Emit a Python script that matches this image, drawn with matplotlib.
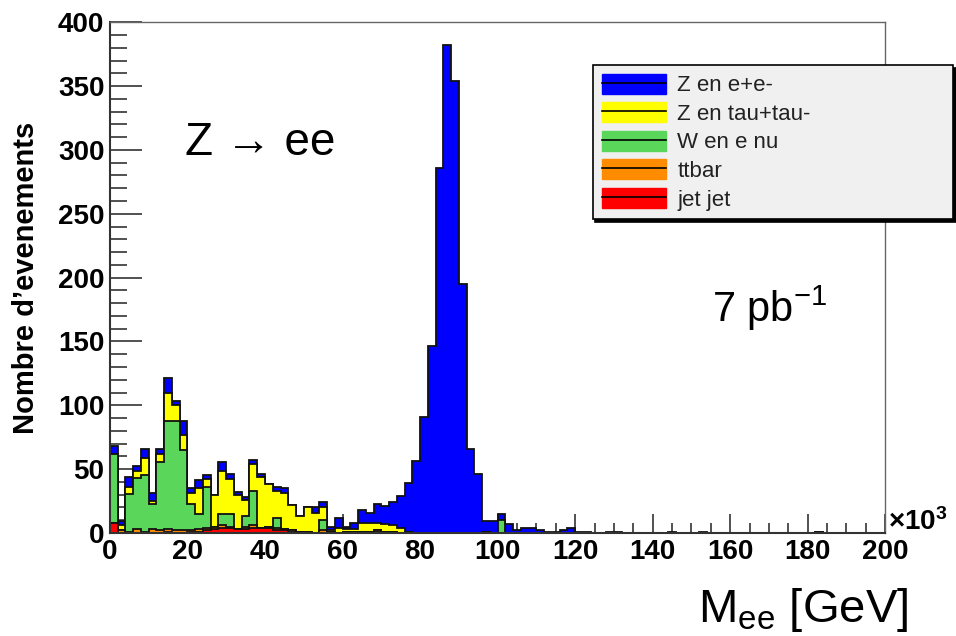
import numpy as np
import matplotlib.pyplot as plt
from matplotlib.patches import Patch
from matplotlib.lines import Line2D
from matplotlib.legend_handler import HandlerTuple
from matplotlib.ticker import MultipleLocator

plt.rcParams['font.family'] = ['Liberation Sans', 'DejaVu Sans']
plt.rcParams['mathtext.fontset'] = 'custom'
plt.rcParams['mathtext.rm'] = 'Liberation Sans'
plt.rcParams['mathtext.it'] = 'Liberation Sans:italic'
plt.rcParams['mathtext.bf'] = 'Liberation Sans:bold'

# bin edges in units of 10^3 (0 .. 200, width 2)
edges = np.arange(0, 202, 2)

# per-component counts, the leading bins; the rest are empty
jetjet_head = [8, 0, 0, 0, 0, 0, 0, 1, 0, 0, 1, 1, 2, 3, 4, 4, 3, 3, 4, 4,
               4, 2, 2, 1, 1, 0, 0, 0, 1, 0, 1, 0, 1, 0, 1, 1, 0, 0, 0, 0,
               0, 0, 0, 0, 0, 0, 0, 0, 1, 0]
ttbar_head = [0, 2, 1, 3, 1, 3, 2, 2, 2, 2, 1, 2, 2, 2, 2, 1, 0, 2, 2, 0,
              1, 2, 1, 1, 0, 1, 0, 2, 0, 0, 0, 1, 0, 1, 1, 0, 1, 0, 1, 0]
wenu_head = [54, 0, 29.5, 40, 44.5, 19.5, 53.5, 85, 85.5, 63, 21, 12, 32, 0,
             8.5, 9.5, 0, 8, 27, 0, 0, 7.5, 0, 0, 0, 0, 0, 8.5, 0, 0,
             0, 0, 0, 0, 0, 0, 0, 0, 0, 0, 0, 0, 0, 0, 0, 0, 0, 0, 0, 0, 10]
ztautau_head = [0, 4.5, 5.5, 5.5, 13.5, 2.5, 6.5, 22, 12.5, 12, 8.5, 20, 6, 25,
                34, 28, 27, 13, 21, 40, 33, 21.5, 28, 20, 12, 19, 15.5, 9.5, 1, 3.5,
                2, 2, 7, 7, 6, 6, 5, 4]
zee_head = [6, 2.5, 8, 4, 7, 6, 4, 11, 3, 10.5, 4, 6.5, 3.5, 0, 7, 3.5, 2, 2, 3.5, 2.5,
            0.5, 3, 4, 0, 0, 0, 4.5, 4.5, 3, 8.5, 2, 5, 10, 8, 15, 14.5, 18.5, 25, 38.5, 56.5,
            90.5, 146.5, 286, 382, 354, 195, 65.5, 46, 8, 9, 5, 7, 2, 4, 4, 2.5, 1, 0.5, 2, 4,
            0.5, 0.5, 0, 0, 1, 1, 0, 0, 0, 0, 0, 0, 1, 0, 0, 0, 1]

ttbar_tail = {91: 1}

names = ['Z en e+e-', 'Z en tau+tau-', 'W en e nu', 'ttbar', 'jet jet']
colors = ['#0000ff', '#ffff00', '#5ad75a', '#ff8c00', '#ff0000']


def pad(values, n=100):
    out = np.zeros(n)
    out[:len(values)] = values
    return out


jetjet = pad(jetjet_head)
ttbar = pad(ttbar_head)
for k, v in ttbar_tail.items():
    ttbar[k] = v
wenu = pad(wenu_head)
ztautau = pad(ztautau_head)
zee = pad(zee_head)

# stacking order from bottom: jet jet, ttbar, W, Z tautau, Z ee
layers = [jetjet, ttbar, wenu, ztautau, zee]
cum = np.cumsum(layers, axis=0)

fig = plt.figure(figsize=(9.56, 6.36), dpi=100)
ax = fig.add_axes([0.115, 0.162, 0.811, 0.803])

# draw the cumulative histograms from the top one down
for i in range(len(layers) - 1, -1, -1):
    col = colors[len(layers) - 1 - i]
    ax.stairs(cum[i], edges, fill=True, color=col, zorder=2 + (4 - i) * 0.1)
    ax.stairs(cum[i], edges, color='#111111', lw=1.3, zorder=2.05 + (4 - i) * 0.1)

ax.set_xlim(0, 200)
ax.set_ylim(0, 400)
ax.xaxis.set_major_locator(MultipleLocator(20))
ax.xaxis.set_minor_locator(MultipleLocator(5))
ax.yaxis.set_major_locator(MultipleLocator(50))
ax.yaxis.set_minor_locator(MultipleLocator(10))
ax.tick_params(which='both', direction='in', top=False, right=False, color='#333333', width=1.2)
ax.tick_params(which='major', axis='y', length=23)
ax.tick_params(which='minor', axis='y', length=12)
ax.tick_params(which='major', axis='x', length=14)
ax.tick_params(which='minor', axis='x', length=7)
ax.tick_params(axis='both', labelsize=20, pad=4)
for lab in ax.get_xticklabels() + ax.get_yticklabels():
    lab.set_fontweight('bold')
for side in ['left', 'bottom']:
    ax.spines[side].set_color('#333333')
    ax.spines[side].set_linewidth(1.5)
for side in ['top', 'right']:
    ax.spines[side].set_color('#666666')
    ax.spines[side].set_linewidth(1.0)

ax.set_ylabel("Nombre d\u2019evenements", fontsize=21, fontweight='bold')
ax.yaxis.set_label_coords(-0.09, 0.5)

ax.text(0.097, 0.74, 'Z \u2192 ee', transform=ax.transAxes, fontsize=33, va='baseline')
ax.text(0.777, 0.413, '7 pb$^{-1}$', transform=ax.transAxes, fontsize=30, va='baseline')
fig.text(0.929, 0.167, '\u00d710$^{\\mathbf{3}}$', fontsize=20, fontweight='bold', va='baseline')
fig.text(0.950, 0.022, 'M$_{\\mathrm{ee}}$ [GeV]', fontsize=34, ha='right', va='baseline')

handles = [(Patch(facecolor=c, edgecolor=c), Line2D([], [], color='black', lw=1.2)) for c in colors]
leg = fig.legend(handles, names, loc='upper left', bbox_to_anchor=(0.620, 0.665, 0.377, 0.233),
                 mode='expand', borderaxespad=0, fontsize=16, handlelength=2.9, handleheight=1.0,
                 labelspacing=0.27, handletextpad=0.5, borderpad=0.4, fancybox=False,
                 framealpha=1, facecolor='#f0f0f0', edgecolor='black',
                 shadow={'color': 'black', 'alpha': 1},
                 handler_map={tuple: HandlerTuple(ndivide=1, pad=0)})
leg.get_frame().set_linewidth(1.2)
for t in leg.get_texts():
    t.set_color('#222222')

plt.savefig('out.png', dpi=100)
